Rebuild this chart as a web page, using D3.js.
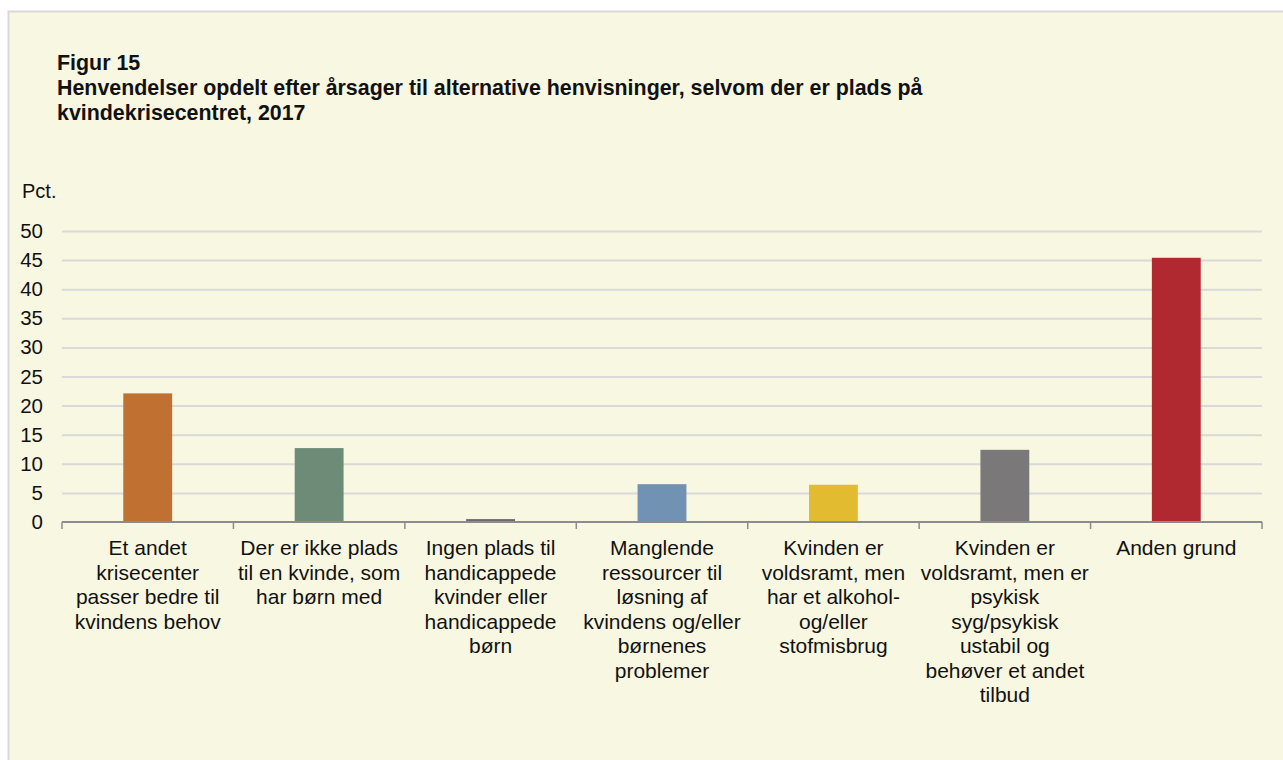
<!DOCTYPE html>
<html>
<head>
<meta charset="utf-8">
<script src="https://cdn.jsdelivr.net/npm/d3@7"></script>
<style>
  body { margin: 0; background: #fff; }
  svg { display: block; font-family: "Liberation Sans", Arial, sans-serif; }
</style>
</head>
<body>
<svg id="chart" width="1283" height="760"></svg>
<script>
// Chart data
const titleLines = [
    "Figur 15",
    "Henvendelser opdelt efter årsager til alternative henvisninger, selvom der er plads på",
    "kvindekrisecentret, 2017"
];
const yLabel = "Pct.";
const categories = [
    ["Et andet", "krisecenter", "passer bedre til", "kvindens behov"],
    ["Der er ikke plads", "til en kvinde, som", "har børn med"],
    ["Ingen plads til", "handicappede", "kvinder eller", "handicappede", "børn"],
    ["Manglende", "ressourcer til", "løsning af", "kvindens og/eller", "børnenes", "problemer"],
    ["Kvinden er", "voldsramt, men", "har et alkohol-", "og/eller", "stofmisbrug"],
    ["Kvinden er", "voldsramt, men er", "psykisk", "syg/psykisk", "ustabil og", "behøver et andet", "tilbud"],
    ["Anden grund"]
];
const values = [22.1, 12.7, 0.5, 6.5, 6.4, 12.4, 45.4];
const barColors = ["#c07030", "#6e8b77", "#6b6b6b", "#7192b2", "#e3bb31", "#7a7878", "#b02830"];
const yTicks = [0, 5, 10, 15, 20, 25, 30, 35, 40, 45, 50];

function drawChart() {
    const svg = d3.select("#chart");
    const left = 62, right = 1262, top = 231, bottom = 522;

    // Panel background
    svg.append("rect")
        .attr("x", 8.5).attr("y", 11.5)
        .attr("width", 1300).attr("height", 800)
        .attr("fill", "#f8f7e1")
        .attr("stroke", "#d9d9d9")
        .attr("stroke-width", 2);

    // Title
    svg.append("g").selectAll("text")
        .data(titleLines)
        .enter().append("text")
        .attr("x", 57)
        .attr("y", (d, i) => 70 + i * 25)
        .attr("font-size", 21.4)
        .attr("font-weight", "bold")
        .attr("fill", "#111")
        .text(d => d);

    svg.append("text")
        .attr("x", 22).attr("y", 198)
        .attr("font-size", 20)
        .attr("fill", "#111")
        .text(yLabel);

    const x = d3.scaleBand()
        .domain(d3.range(categories.length))
        .range([left, right]);

    const y = d3.scaleLinear()
        .domain([0, 50])
        .range([bottom, top]);

    // Gridlines + y axis labels
    const yAxis = svg.append("g")
        .attr("transform", `translate(${left},0)`)
        .call(d3.axisLeft(y).tickValues(yTicks).tickSize(-(right - left)).tickPadding(19));
    yAxis.select(".domain").remove();
    yAxis.selectAll(".tick line")
        .attr("stroke", "#d9d9d9")
        .attr("stroke-width", 2)
        .filter(d => d === 0).remove();
    yAxis.selectAll(".tick text")
        .attr("font-size", 20.5)
        .attr("font-family", "Liberation Sans, Arial, sans-serif")
        .attr("fill", "#111");

    // Bars
    const barW = x.bandwidth() * 0.285;
    svg.append("g").selectAll("rect")
        .data(values)
        .enter().append("rect")
        .attr("x", (d, i) => x(i) + (x.bandwidth() - barW) / 2)
        .attr("y", d => y(d))
        .attr("width", barW)
        .attr("height", d => y(0) - y(d))
        .attr("fill", (d, i) => barColors[i]);

    // X axis line and boundary ticks
    svg.append("line")
        .attr("x1", left).attr("x2", right)
        .attr("y1", y(0)).attr("y2", y(0))
        .attr("stroke", "#8c8c8c").attr("stroke-width", 2);

    const bounds = x.domain().map(i => x(i)).concat([right]);
    svg.append("g").selectAll("line")
        .data(bounds)
        .enter().append("line")
        .attr("x1", d => d).attr("x2", d => d)
        .attr("y1", y(0)).attr("y2", y(0) + 7)
        .attr("stroke", "#8c8c8c").attr("stroke-width", 1.5);

    // Category labels
    const labels = svg.append("g").selectAll("text")
        .data(categories)
        .enter().append("text")
        .attr("text-anchor", "middle")
        .attr("font-size", 21)
        .attr("fill", "#111");
    labels.selectAll("tspan")
        .data((d, i) => d.map(line => ({ line, i })))
        .enter().append("tspan")
        .attr("x", d => x(d.i) + x.bandwidth() / 2)
        .attr("y", (d, j) => 555 + j * 24.5)
        .text(d => d.line);
}

drawChart();
</script>
</body>
</html>
